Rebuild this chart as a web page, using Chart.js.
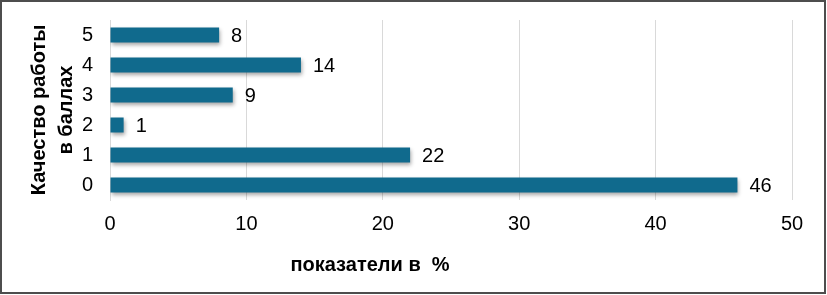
<!DOCTYPE html>
<html>
<head>
<meta charset="utf-8">
<script src="https://cdn.jsdelivr.net/npm/chart.js@4"></script>
<style>
    body { margin: 0; background: #fff; }
    #wrap { width: 827px; height: 295px; }
</style>
</head>
<body>
<div id="wrap"><canvas id="qualityChart" width="827" height="295"></canvas></div>
<script>
// Chart data
var categories = ['5', '4', '3', '2', '1', '0'];
var values = [8, 14, 9, 1, 22, 46];
var xTicks = [0, 10, 20, 30, 40, 50];
var yTitle = ['Качество работы', 'в баллах'];
var xTitle = 'показатели в  %';

var FONT = "'Liberation Sans', Arial, sans-serif";

// value labels to the right of the bars
const valueLabels = {
    id: 'valueLabels',
    afterDatasetsDraw(chart) {
        const ctx = chart.ctx;
        const meta = chart.getDatasetMeta(0);
        ctx.save();
        ctx.font = '20px ' + FONT;
        ctx.fillStyle = '#000';
        ctx.textAlign = 'left';
        ctx.textBaseline = 'middle';
        meta.data.forEach((bar, i) => {
            ctx.fillText(values[i], bar.x + 12, bar.y + 1);
        });
        ctx.restore();
    }
};

// soft shadow under the bars
const barShadow = {
    id: 'barShadow',
    beforeDatasetsDraw(chart) {
        const ctx = chart.ctx;
        ctx.save();
        ctx.shadowColor = 'rgba(0, 0, 0, 0.35)';
        ctx.shadowBlur = 4;
        ctx.shadowOffsetX = 1;
        ctx.shadowOffsetY = 2;
    },
    afterDatasetsDraw(chart) {
        chart.ctx.restore();
    }
};

// x axis title (sits left of centre in the original) and the frame
const frame = {
    id: 'frame',
    afterDraw(chart) {
        const ctx = chart.ctx;
        ctx.save();
        ctx.font = 'bold 20px ' + FONT;
        ctx.fillStyle = '#000';
        ctx.textAlign = 'center';
        ctx.textBaseline = 'middle';
        ctx.fillText(xTitle, 370, 265);
        ctx.strokeStyle = '#4d4d4d';
        ctx.lineWidth = 2;
        ctx.strokeRect(1, 1, 824, 292);
        ctx.restore();
    }
};

new Chart(document.getElementById('qualityChart').getContext('2d'), {
    type: 'bar',
    data: {
        labels: categories,
        datasets: [{
            data: values,
            backgroundColor: '#106a8d',
            borderWidth: 0,
            barPercentage: 0.5,
            categoryPercentage: 1.0
        }]
    },
    options: {
        indexAxis: 'y',
        responsive: false,
        animation: false,
        layout: {
            padding: { left: 26, top: 20, right: 35, bottom: 0 }
        },
        plugins: {
            legend: { display: false },
            tooltip: { enabled: false }
        },
        scales: {
            x: {
                min: 0,
                max: 50,
                afterBuildTicks: function(scale) {
                    scale.ticks = xTicks.map(v => ({ value: v }));
                },
                afterFit: function(scale) {
                    scale.height = 95;
                    scale.paddingLeft = 0;
                    scale.paddingRight = 0;
                },
                grid: {
                    color: '#d9d9d9',
                    drawTicks: false
                },
                border: { display: false },
                ticks: {
                    padding: 12,
                    color: '#000',
                    font: { family: FONT, size: 20 }
                }
            },
            y: {
                afterFit: function(scale) {
                    scale.width = 84;
                    scale.paddingTop = 0;
                    scale.paddingBottom = 0;
                },
                grid: { display: false, drawTicks: false },
                border: { display: true, color: '#d9d9d9' },
                ticks: {
                    padding: 17,
                    color: '#000',
                    font: { family: FONT, size: 20 }
                },
                title: {
                    display: true,
                    text: yTitle,
                    color: '#000',
                    padding: 0,
                    font: { family: FONT, size: 20, weight: 'bold', lineHeight: 1.35 }
                }
            }
        }
    },
    plugins: [barShadow, valueLabels, frame]
});
</script>
</body>
</html>
